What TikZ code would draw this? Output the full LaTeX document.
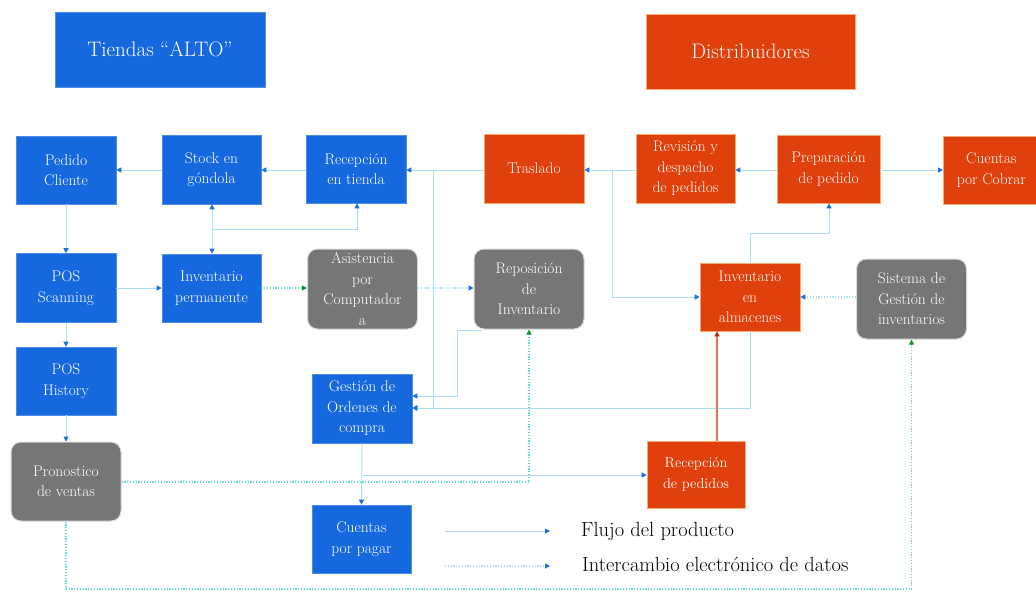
\documentclass[tikz,border=0pt]{standalone}
\usepackage{fontspec}
\newcommand\boxfont{\rmfamily}
\usetikzlibrary{arrows.meta}
\definecolor{tblue}{RGB}{22,104,222}
\definecolor{torange}{RGB}{224,64,12}
\definecolor{tgray}{RGB}{118,118,118}
\definecolor{flowline}{RGB}{170,222,240}
\definecolor{edi}{RGB}{90,222,212}
\definecolor{tipblue}{RGB}{30,112,222}
\definecolor{tipgreen}{RGB}{20,150,50}
\definecolor{recline}{RGB}{226,120,80}
\definecolor{redborder}{RGB}{245,170,110}
\tikzset{
  box/.style={rectangle, align=center, inner sep=2pt,
    font=\boxfont\fontsize{15.5}{20.5}\selectfont},
  bluebox/.style={box, fill=tblue, draw=tblue!75!white, line width=0.6pt, text=white},
  redbox/.style={box, fill=torange, draw=redborder, line width=0.6pt, text=white!96!orange},
  graybox/.style={box, fill=tgray, draw=gray!30, line width=1pt, rounded corners=10pt, text=white},
  flow/.style={draw=flowline, line width=0.9pt, -{Triangle[width=5pt,length=5pt,color=tipblue]}},
  flowplain/.style={draw=flowline, line width=0.9pt},
  edata/.style={draw=edi, line width=1.1pt, dash pattern=on 1.2pt off 1.6pt, -{Triangle[width=5pt,length=5pt,color=tipgreen]}},
  edatab/.style={draw=edi, line width=1.1pt, dash pattern=on 1.2pt off 1.6pt, -{Triangle[width=5pt,length=5pt,color=tipblue]}},
  recflow/.style={draw=recline, line width=1.1pt, -{Triangle[width=5pt,length=5pt,color=torange!80!black]}},
  legendtext/.style={anchor=west, inner sep=0, font=\boxfont\fontsize{20.5}{24}\selectfont},
}
\begin{document}
\begin{tikzpicture}[x=1pt,y=-1pt]
\useasboundingbox (0,0) rectangle (1036,592);
\fill[white] (0,0) rectangle (1036,592);

% headers
\node[bluebox, font=\boxfont\fontsize{21}{24}\selectfont, minimum width=210, minimum height=75] (tiendas) at (160,49.5) {Tiendas “ALTO”};
\node[redbox, font=\boxfont\fontsize{21}{24}\selectfont, minimum width=209, minimum height=75] (distrib) at (750.5,51.5) {Distribuidores};

% store side
\node[bluebox, minimum width=100, minimum height=68] (pedido) at (66,170) {Pedido\\Cliente};
\node[bluebox, minimum width=99, minimum height=69] (stock) at (211.5,169.5) {Stock en\\góndola};
\node[bluebox, minimum width=100, minimum height=68] (recep) at (356,169) {Recepción\\en tienda};
\node[bluebox, minimum width=100, minimum height=69] (scan) at (66,288) {POS\\Scanning};
\node[bluebox, minimum width=99, minimum height=68] (invperm) at (211.5,288) {Inventario\\permanente};
\node[graybox, minimum width=110, minimum height=80] (asist) at (362.5,289) {Asistencia\\por\\Computador\\a};
\node[graybox, minimum width=110, minimum height=80] (repo) at (529,289) {Reposición\\de\\Inventario};
\node[bluebox, minimum width=100, minimum height=68] (history) at (66,381) {POS\\History};
\node[graybox, minimum width=110, minimum height=79] (pronos) at (66,481.5) {Pronostico\\de ventas};
\node[bluebox, minimum width=100, minimum height=69] (gestion) at (362,408.5) {Gestión de\\Ordenes de\\compra};
\node[bluebox, minimum width=99, minimum height=68] (pagar) at (361.5,539) {Cuentas\\por pagar};

% distributor side
\node[redbox, minimum width=100, minimum height=69] (traslado) at (534,168.5) {Traslado};
\node[redbox, minimum width=99, minimum height=69] (revision) at (685.5,168.5) {Revisión y\\despacho\\de pedidos};
\node[redbox, minimum width=103, minimum height=68] (prepar) at (828.5,169) {Preparación\\de pedido};
\node[redbox, minimum width=96, minimum height=68, anchor=west] (cobrar) at (943,170) {Cuentas\\por Cobrar};
\node[redbox, minimum width=100, minimum height=68] (invalm) at (750,297) {Inventario\\en\\almacenes};
\node[graybox, minimum width=110, minimum height=80] (sgi) at (911.5,299) {Sistema de\\Gestión de\\inventarios};
\node[redbox, minimum width=98, minimum height=67, font=\boxfont\fontsize{14.5}{21}\selectfont] (recped) at (696,474.5) {Recepción\\de pedidos};

% product flow
\draw[flow] (stock.west |- 0,170) -- (pedido.east |- 0,170);
\draw[flow] (recep.west |- 0,170) -- (stock.east |- 0,170);
\draw[flow] (traslado.west |- 0,170) -- (recep.east |- 0,170);
\draw[flow] (revision.west |- 0,170) -- (traslado.east |- 0,170);
\draw[flow] (prepar.west |- 0,170) -- (revision.east |- 0,170);
\draw[flow] (prepar.east |- 0,170) -- (cobrar.west |- 0,170);
\draw[flow] (pedido.south) -- (scan.north);
\draw[flow] (scan.south) -- (history.north);
\draw[flow] (history.south) -- (pronos.north);
\draw[flow] (scan.east |- 0,288) -- (invperm.west |- 0,288);
\draw[flowplain, {Triangle[width=5pt,length=5pt,color=tipblue]}-{Triangle[width=5pt,length=5pt,color=tipblue]}] (stock.south -| 212,0) -- (invperm.north -| 212,0);
\coordinate (jn) at (212,229);
\draw[flow] (jn) -| (recep.south -| 357,0);
\coordinate (tr) at (433,170);
\draw[flow] (tr) -- (433,408) -- (gestion.east |- 0,408);
\draw[flow] (revision.west |- 0,170) -- (612,170) |- (invalm.west |- 0,297);
\draw[flow] (invalm.north) -- (750,233) -| (prepar.south -| 829,0);
\draw[flow] (invalm.south) -- (750,408) -- (gestion.east |- 0,408);
\draw[flow] (482,330) -- (457,330) |- (gestion.east |- 0,396);
\draw[flow] (gestion.south) -- (pagar.north);
\draw[flow] (362,475) -- (recped.west |- 0,475);
\draw[recflow] (recped.north -| 717,0) -- (invalm.south -| 717,0);

% electronic data
\draw[edata] (invperm.east |- 0,288) -- (asist.west |- 0,288);
\draw[edatab, draw=flowline] (asist.east |- 0,288) -- (repo.west |- 0,288);
\draw[edatab, draw=flowline] (sgi.west |- 0,297) -- (invalm.east |- 0,297);
\draw[edata] (pronos.east |- 0,482) -| (repo.south);
\draw[edata] (pronos.south) -- (66,589) -| (sgi.south);

% legend
\coordinate (la) at (445,531);
\coordinate (lb) at (550,531);
\coordinate (lc) at (445,566);
\coordinate (ld) at (550,566);
\draw[flow] (la) -- (lb);
\draw[edatab, draw=flowline] (lc) -- (ld);
\node[legendtext] (lt1) at (581,531) {Flujo del producto};
\node[legendtext] (lt2) at (582,564) {Intercambio electrónico de datos};
\end{tikzpicture}
\end{document}
